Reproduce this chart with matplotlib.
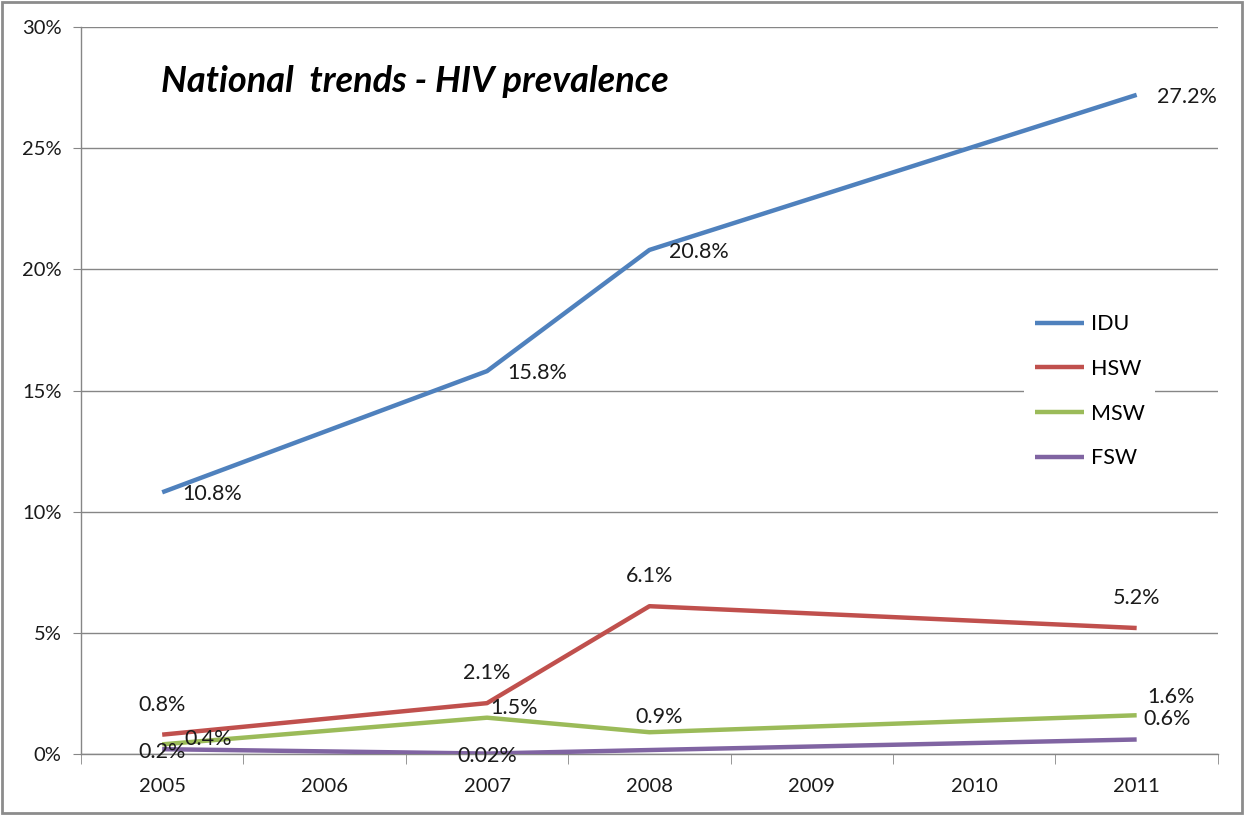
import numpy as np
import matplotlib.pyplot as plt
from matplotlib.patches import Rectangle

plt.rcParams['font.family'] = ['Lato', 'DejaVu Sans']

years = ['2005', '2006', '2007', '2008', '2009', '2010', '2011']
nan = np.nan
idu = [10.8, nan, 15.8, 20.8, nan, nan, 27.2]
hsw = [0.8, nan, 2.1, 6.1, nan, nan, 5.2]
msw = [0.4, nan, 1.5, 0.9, nan, nan, 1.6]
fsw = [0.2, nan, 0.02, nan, nan, nan, 0.6]
idu_lbl = ['10.8%', '', '15.8%', '20.8%', '', '', '27.2%']
hsw_lbl = ['0.8%', '', '2.1%', '6.1%', '', '', '5.2%']
msw_lbl = ['0.4%', '', '1.5%', '0.9%', '', '', '1.6%']
fsw_lbl = ['0.2%', '', '0.02%', '', '', '', '0.6%']

series = [
    ('IDU', idu, idu_lbl, '#4F81BD'),
    ('HSW', hsw, hsw_lbl, '#C0504D'),
    ('MSW', msw, msw_lbl, '#9BBB59'),
    ('FSW', fsw, fsw_lbl, '#8064A2'),
]

# label placement (pixel offsets, alignment) for each point
offsets = {
    'IDU': [(20, -2, 'left')] * 7,
    'HSW': [(0, 30, 'center')] * 7,
    'MSW': [(22, 5, 'left'), None, (3, 10, 'left'), (10, 15, 'center'), None, None, (34, 18, 'center')],
    'FSW': [(0, -3, 'center'), None, (0, -2, 'center'), None, None, None, (30, 20, 'center')],
}

fig = plt.figure(figsize=(12.44, 8.15), dpi=100)
ax = fig.add_axes([0.0651, 0.0748, 0.9139, 0.8921])

x = np.arange(len(years))
for name, vals, labels, color in series:
    v = np.array(vals, dtype=float)
    ok = ~np.isnan(v)
    ax.plot(x[ok], v[ok], color=color, lw=3.2, label=name, solid_capstyle='butt', zorder=3)
    for i in np.where(ok)[0]:
        dx, dy, ha = offsets[name][i] if offsets[name][i] else (0, 10, 'center')
        ax.annotate(labels[i], (x[i], v[i]), xytext=(dx, dy), textcoords='offset pixels',
                    ha=ha, va='center', fontsize=15.5, color='#1a1a1a', zorder=4)

ax.set_xlim(-0.5, 6.5)
ax.set_ylim(0, 30)
ax.set_yticks(np.arange(0, 31, 5))
ax.set_yticklabels([f'{t}%' for t in range(0, 31, 5)])
ax.set_xticks(x)
ax.set_xticklabels(years)
ax.set_xticks(np.arange(-0.5, 7, 1), minor=True)
ax.tick_params(axis='x', which='major', length=0, pad=17, labelsize=14.5, labelcolor='#1a1a1a')
ax.tick_params(axis='x', which='minor', length=7, color='#868686', direction='out')
ax.tick_params(axis='y', length=6, color='#868686', pad=8, labelsize=14.5, labelcolor='#1a1a1a')

ax.grid(axis='y', color='#868686', lw=1)
ax.set_axisbelow(True)
for s in ['top', 'right']:
    ax.spines[s].set_visible(False)
for s in ['left', 'bottom']:
    ax.spines[s].set_color('#868686')
    ax.spines[s].set_linewidth(1)

ax.text(0.07, 0.925, 'National  trends - HIV prevalence', transform=ax.transAxes,
        fontsize=26, fontweight='bold', fontstyle='italic', va='center', ha='left')

leg = ax.legend(loc='center left', bbox_to_anchor=(0.82, 0.499), frameon=True, fancybox=False,
                edgecolor='none', facecolor='white', framealpha=1, fontsize=15.5,
                handlelength=2.3, handletextpad=0.3, labelspacing=1.14, borderpad=0.5)

# grey border round the whole figure
fig.patches.append(Rectangle((0.002, 0.002), 0.996, 0.996, transform=fig.transFigure,
                             fill=False, edgecolor='#8c8c8c', lw=2))

fig.savefig('out.png', dpi=100)
